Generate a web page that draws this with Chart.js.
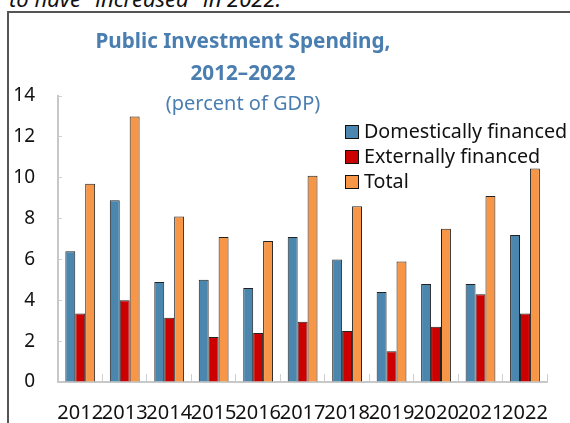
<!DOCTYPE html>
<html>
<head>
<meta charset="utf-8">
<script src="https://cdn.jsdelivr.net/npm/chart.js@4.4.1/dist/chart.umd.min.js"></script>
<style>
  html, body { margin: 0; padding: 0; background: #fff; }
  #page { position: relative; width: 570px; height: 423px; overflow: hidden; font-family: "Noto Sans", sans-serif; }
  #lead { position: absolute; left: 9px; top: -17px; font-size: 22px; font-style: italic; color: #111; white-space: nowrap; }
  #frame { position: absolute; left: 7px; top: 11px; width: 700px; height: 600px; border-left: 2px solid #555; border-top: 2px solid #555; }
  #investChart { position: absolute; left: 0; top: 0; }
  #title { position: absolute; left: 43px; width: 400px; top: 24px; text-align: center; color: #4a7eb0; }
  #title .t { font-weight: bold; font-size: 20.7px; line-height: 32px; }
  #title .s { font-size: 20px; line-height: 30px; }
  #legend { position: absolute; left: 345px; top: 118px; font-size: 19.7px; color: #111; }
  #legend div { height: 25px; line-height: 25px; white-space: nowrap; }
  #legend span.box { display: inline-block; width: 12px; height: 12px; border: 1px solid #111; margin-right: 5px; vertical-align: -1px; }
</style>
</head>
<body>
<div id="page">
  <div id="lead">to have "increased" in 2022.</div>
  <div id="frame"></div>
  <canvas id="investChart" width="575" height="423"></canvas>
  <div id="title">
    <div class="t">Public Investment Spending,</div>
    <div class="t">2012&#8211;2022</div>
    <div class="s">(percent of GDP)</div>
  </div>
  <div id="legend"></div>
</div>
<script>
// Public investment spending, percent of GDP
const years = ['2012', '2013', '2014', '2015', '2016', '2017', '2018', '2019', '2020', '2021', '2022'];
const domestic = [6.4, 8.9, 4.9, 5.0, 4.6, 7.1, 6.0, 4.4, 4.8, 4.8, 7.2];
const external = [3.35, 4.0, 3.15, 2.2, 2.4, 2.95, 2.5, 1.5, 2.7, 4.3, 3.35];
const total = [9.7, 13.0, 8.1, 7.1, 6.9, 10.1, 8.6, 5.9, 7.5, 9.1, 10.45];
const yTicks = [0, 2, 4, 6, 8, 10, 12, 14];

const seriesNames = ['Domestically financed', 'Externally financed', 'Total'];
const seriesColors = ['#4a86ad', '#cc0000', '#f79646'];
const seriesData = [domestic, external, total];

const datasets = seriesNames.map((name, i) => ({
    label: name,
    data: seriesData[i],
    backgroundColor: seriesColors[i],
    borderColor: '#222',
    borderWidth: { top: 1, left: 1, right: 1, bottom: 0 },
    categoryPercentage: 0.67,
    barPercentage: 1.0
}));

// legend sits inside the plot, so build it by hand
const legendBox = document.getElementById('legend');
seriesNames.forEach((name, i) => {
    const row = document.createElement('div');
    row.innerHTML = '<span class="box" style="background:' + seriesColors[i] + '"></span>' + name;
    legendBox.appendChild(row);
});

const ctx = document.getElementById('investChart').getContext('2d');
const investChart = new Chart(ctx, {
    type: 'bar',
    data: { labels: years, datasets: datasets },
    options: {
        responsive: false,
        animation: false,
        devicePixelRatio: 1,
        layout: { padding: { top: 96, right: 3, bottom: 0, left: 0 } },
        plugins: {
            legend: { display: false },
            tooltip: { enabled: false }
        },
        scales: {
            x: {
                grid: {
                    drawOnChartArea: false,
                    drawTicks: true,
                    tickLength: -8,
                    color: '#cfcfcf',
                    lineWidth: 1
                },
                border: { color: '#c8c8c8', width: 2 },
                ticks: {
                    color: '#111',
                    font: { family: 'Noto Sans', size: 20 },
                    padding: 27,
                    maxRotation: 0,
                    autoSkip: false
                },
                afterFit: scale => { scale.height = 41; }
            },
            y: {
                min: 0,
                max: 14,
                afterBuildTicks: scale => { scale.ticks = yTicks.map(v => ({ value: v })); },
                grid: {
                    drawOnChartArea: false,
                    drawTicks: true,
                    tickLength: -4,
                    color: '#cfcfcf'
                },
                border: { color: '#c8c8c8', width: 2 },
                ticks: {
                    color: '#111',
                    font: { family: 'Noto Sans', size: 19 },
                    padding: 27
                },
                afterFit: scale => { scale.width = 58; }
            }
        }
    }
});
</script>
</body>
</html>
